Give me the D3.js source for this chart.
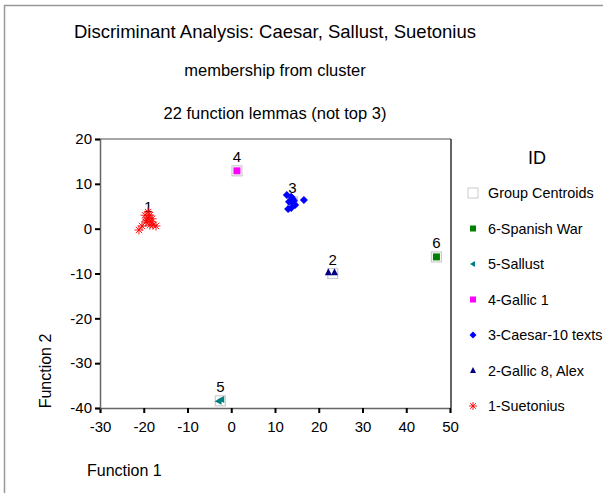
<!DOCTYPE html>
<html><head><meta charset="utf-8">
<script src="https://cdn.jsdelivr.net/npm/d3@7"></script>
<style>body{margin:0;background:#fff}svg{display:block;font-family:"Liberation Sans",Arial,sans-serif}</style>
</head><body><svg id="c" width="603" height="493"></svg>
<script>
const xTicks = [-30,-20,-10,0,10,20,30,40,50];
const yTicks = [20,10,0,-10,-20,-30,-40];
const groups = ["6-Spanish War","5-Sallust","4-Gallic 1","3-Caesar-10 texts","2-Gallic 8, Alex","1-Suetonius"];
const colors = {"1":"#ff0000","2":"#000080","3":"#0000ff","4":"#ff00ff","5":"#008080","6":"#008000"};
const g1 = [[-21.1,-0.3],[-20.4,0.6],[-19.5,1.5],[-19.0,2.4],[-18.6,3.0],[-19.7,3.0],[-18.3,1.5],[-17.9,0.8],[-17.2,0.6],[-19.0,3.7],[-18.6,0.8],[-19.3,1.9],[-18.1,2.2]];
const g2 = [[22.2,-9.7],[23.6,-9.7]];
const g3 = [[12.7,7.5],[13.7,7.1],[13.2,6.0],[14.1,5.7],[14.6,5.3],[13.7,4.6],[13.0,4.4],[14.1,6.6],[16.6,6.4],[14.3,6.2]];
const g4 = [[1.3,12.9]];
const g5 = [[-2.3,-38.1],[-2.9,-38.5]];
const g6 = [[46.9,-6.3]];
const centroids = [["1",-19.0,1.7],["2",23.2,-10.0],["3",14.0,6.0],["4",1.3,12.9],["5",-2.5,-38.4],["6",46.9,-6.3]];

const svg = d3.select("#c");
svg.append("rect").attr("x",4.5).attr("y",5.5).attr("width",620).attr("height",520).attr("fill","none").attr("stroke","#999").attr("stroke-width",1.5);

const x = d3.scaleLinear().domain([-30,50]).range([100,450]);
const y = d3.scaleLinear().domain([-40,20]).range([408,139]);

svg.append("text").attr("x",275).attr("y",38).attr("text-anchor","middle").attr("font-size",18.5).text("Discriminant Analysis: Caesar, Sallust, Suetonius");
svg.append("text").attr("x",275).attr("y",76).attr("text-anchor","middle").attr("font-size",16.5).text("membership from cluster");
svg.append("text").attr("x",275).attr("y",119).attr("text-anchor","middle").attr("font-size",16.5).text("22 function lemmas (not top 3)");

// frame
svg.append("line").attr("x1",100).attr("x2",451).attr("y1",139).attr("y2",139).attr("stroke","#888").attr("stroke-width",1.5);
svg.append("line").attr("x1",451).attr("x2",451).attr("y1",139).attr("y2",408).attr("stroke","#333").attr("stroke-width",1.5);

const fmt = d => String(d);
const xa = svg.append("g").attr("transform","translate(0,408)").call(d3.axisBottom(x).tickValues(xTicks).tickSize(5).tickPadding(8).tickFormat(fmt));
const ya = svg.append("g").attr("transform","translate(100,0)").call(d3.axisLeft(y).tickValues(yTicks).tickSize(5).tickPadding(3).tickFormat(fmt));
[xa,ya].forEach(a=>{
  a.select(".domain").attr("stroke","#666").attr("stroke-width",1.5);
  a.selectAll(".tick line").attr("stroke","#000").attr("stroke-width",2);
  a.selectAll(".tick text").attr("font-size",15).attr("fill","#000").attr("font-family","Liberation Sans, Arial, sans-serif");
});

svg.append("text").attr("transform","translate(51,371) rotate(-90)").attr("text-anchor","middle").attr("font-size",16).text("Function 2");
svg.append("text").attr("x",87).attr("y",476).attr("font-size",16).text("Function 1");

const plot = svg.append("g");
plot.selectAll(".cen").data(centroids).join("rect")
  .attr("x",d=>x(d[1])-5).attr("y",d=>y(d[2])-5).attr("width",10).attr("height",10)
  .attr("fill","#fff").attr("stroke","#ccc").attr("stroke-width",1.2);
plot.selectAll(".cl").data(centroids).join("text")
  .attr("x",d=>x(d[1])).attr("y",d=>y(d[2])-9).attr("text-anchor","middle").attr("font-size",15).text(d=>d[0]);

function asterisk(sel,cx,cy,r,col){
  const gg = sel.append("g").attr("stroke",col).attr("stroke-width",0.9);
  for(let k=0;k<4;k++){const a=k*Math.PI/4;
    gg.append("line").attr("x1",cx-r*Math.cos(a)).attr("y1",cy-r*Math.sin(a)).attr("x2",cx+r*Math.cos(a)).attr("y2",cy+r*Math.sin(a));}
}
g1.forEach(d=>asterisk(plot,x(d[0]),y(d[1]),4.5,colors["1"]));
plot.selectAll(".g2").data(g2).join("path").attr("d",d=>{const cx=x(d[0]),cy=y(d[1]);return `M${cx},${cy-4}L${cx+3.5},${cy+3}L${cx-3.5},${cy+3}Z`;}).attr("fill",colors["2"]);
plot.selectAll(".g3").data(g3).join("path").attr("d",d=>{const cx=x(d[0]),cy=y(d[1]);return `M${cx},${cy-4}L${cx+4},${cy}L${cx},${cy+4}L${cx-4},${cy}Z`;}).attr("fill",colors["3"]);
plot.selectAll(".g4").data(g4).join("rect").attr("x",d=>x(d[0])-3.5).attr("y",d=>y(d[1])-3.5).attr("width",7).attr("height",7).attr("fill",colors["4"]);
plot.selectAll(".g5").data(g5).join("path").attr("d",d=>{const cx=x(d[0]),cy=y(d[1]);return `M${cx-4},${cy}L${cx+3},${cy-3.5}L${cx+3},${cy+3.5}Z`;}).attr("fill",colors["5"]);
plot.selectAll(".g6").data(g6).join("rect").attr("x",d=>x(d[0])-3.5).attr("y",d=>y(d[1])-3.5).attr("width",7).attr("height",7).attr("fill",colors["6"]);

const lg = svg.append("g");
lg.append("text").attr("x",537).attr("y",164).attr("text-anchor","middle").attr("font-size",18).text("ID");
const ly0 = 193, ldy = 35.5, lx = 473;
lg.append("rect").attr("x",lx-5).attr("y",ly0-5).attr("width",10).attr("height",10).attr("fill","#fff").attr("stroke","#ccc");
lg.append("text").attr("x",488).attr("y",ly0+5).attr("font-size",14.4).text("Group Centroids");
const keys = ["6","5","4","3","2","1"];
groups.forEach((gname,i)=>{
  const cy = ly0+ldy*(i+1), k = keys[i], col = colors[k];
  if(k==="6"||k==="4") lg.append("rect").attr("x",lx-3).attr("y",cy-3).attr("width",6).attr("height",6).attr("fill",col);
  if(k==="5") lg.append("path").attr("d",`M${lx-3},${cy}L${lx+2},${cy-3}L${lx+2},${cy+3}Z`).attr("fill",col);
  if(k==="3") lg.append("path").attr("d",`M${lx},${cy-3.5}L${lx+3.5},${cy}L${lx},${cy+3.5}L${lx-3.5},${cy}Z`).attr("fill",col);
  if(k==="2") lg.append("path").attr("d",`M${lx},${cy-3.5}L${lx+3},${cy+2.5}L${lx-3},${cy+2.5}Z`).attr("fill",col);
  if(k==="1") asterisk(lg,lx,cy,4,col);
  lg.append("text").attr("x",488).attr("y",cy+5).attr("font-size",14.4).text(gname);
});
</script></body></html>
